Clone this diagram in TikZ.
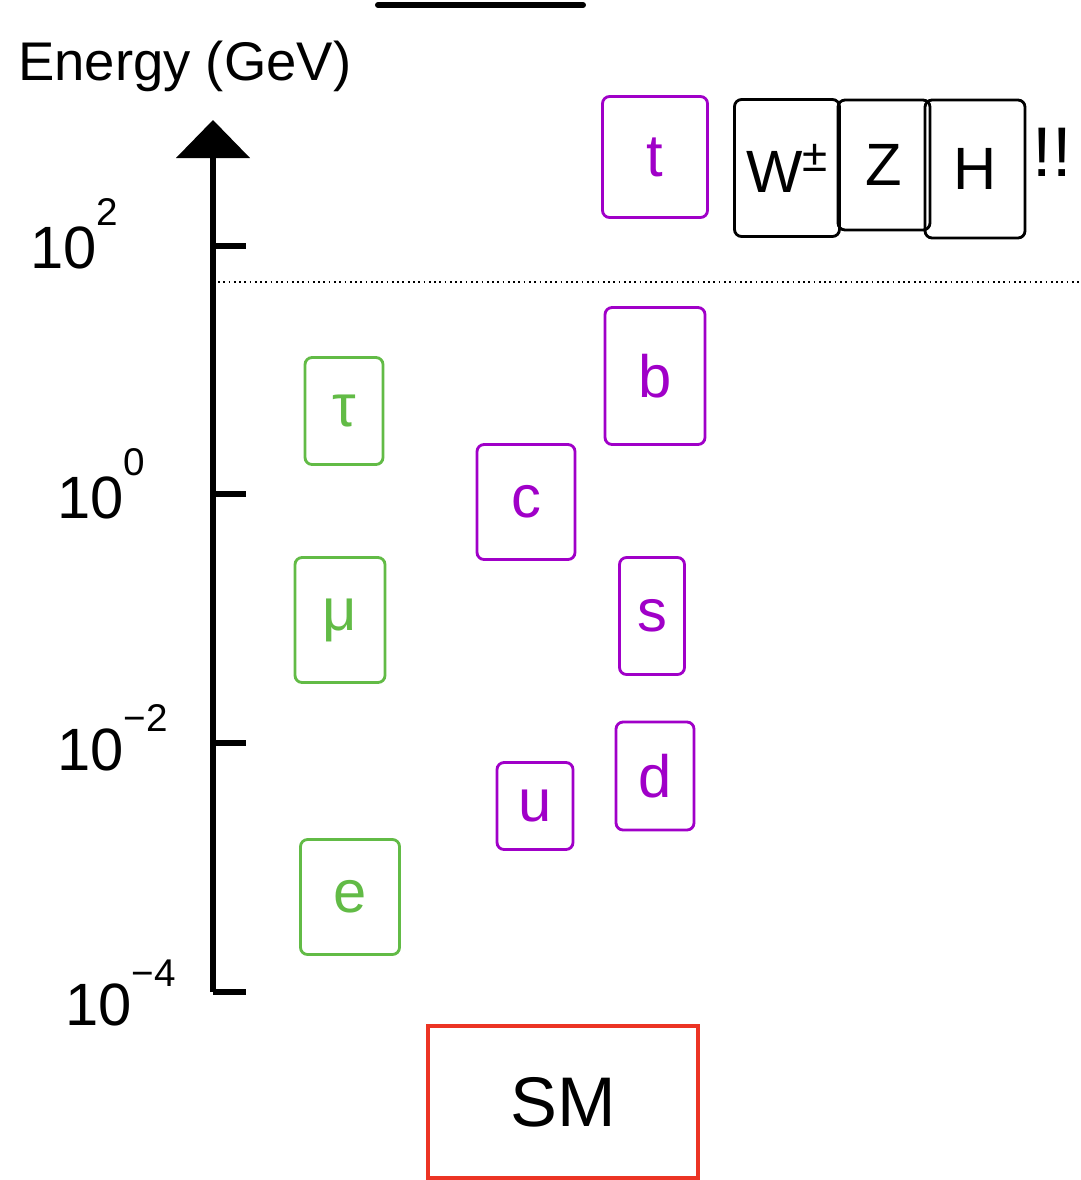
\documentclass[tikz,border=0pt]{standalone}
\usepackage{fontspec}
\setmainfont{Liberation Sans}
\definecolor{lgreen}{RGB}{98,187,70}
\definecolor{qpurple}{RGB}{160,0,200}
\definecolor{smred}{RGB}{236,52,36}
\newcommand\supfont{\fontsize{22}{22}\selectfont}
\begin{document}
\begin{tikzpicture}[x=0.02cm,y=-0.02cm,
  box/.style={draw, line width=1.6pt, rounded corners=4pt, inner sep=0pt,
    font=\fontsize{34}{34}\selectfont},
  lepton/.style={box, draw=lgreen, text=lgreen},
  quark/.style={box, draw=qpurple, text=qpurple},
  boson/.style={box, draw=black, text=black},
  axlabel/.style={anchor=base west, inner sep=0pt, font=\fontsize{34}{34}\selectfont},
  tick/.style={line width=3.4pt}]
\useasboundingbox (0,0) rectangle (1080,1180);

% title and top bar
\node[anchor=base west, inner sep=0pt, font=\fontsize{31}{31}\selectfont] (title) at (18,80) {Energy (GeV)};
\coordinate (barL) at (378,5);
\coordinate (barR) at (583,5);
\draw[line width=3.4pt, line cap=round] (barL) -- (barR);

% axis
\coordinate (axbot) at (213,992);
\coordinate (axtop) at (213,158);
\coordinate (tipL) at (176,158);
\coordinate (tipR) at (250,158);
\coordinate (tip) at (213,120);
\draw[line width=3.4pt] (axbot) -- (axtop);
\fill (tipL) -- (tipR) -- (tip) -- cycle;

\foreach \y/\nm in {246/t2, 494/t0, 743/tm2, 992/tm4}{
  \coordinate (\nm a) at (213,\y);
  \coordinate (\nm b) at (246,\y);
  \draw[tick] (\nm a) -- (\nm b);
}

\node[axlabel] (l2) at (30,268) {10\raisebox{24pt}{\supfont 2}};
\node[axlabel] (l0) at (57,518) {10\raisebox{24pt}{\supfont 0}};
\node[axlabel] (lm2) at (57,770) {10\raisebox{22pt}{\supfont −2}};
\node[axlabel] (lm4) at (65,1025) {10\raisebox{22pt}{\supfont −4}};

% dotted separation line
\coordinate (dotL) at (218,282);
\coordinate (dotR) at (1080,282);
\draw[dotted, line width=1pt] (dotL) -- (dotR);

% bosons
\node[quark, minimum width=2.1cm, minimum height=2.42cm] (t) at (655,157) {t};
\node[boson, minimum width=2.1cm, minimum height=2.74cm] (W) at (787,168) {W\raisebox{12pt}{\fontsize{26}{26}\selectfont ±}};
\node[boson, minimum width=1.84cm, minimum height=2.6cm] (Z) at (884,165) {Z};
\node[boson, minimum width=2.0cm, minimum height=2.76cm] (H) at (975,169) {H};
\node[inner sep=0pt, font=\fontsize{40}{40}\selectfont] (excl) at (1052,152) {!!};

% quarks
\node[quark, minimum width=2.0cm, minimum height=2.74cm] (b) at (655,376) {b};
\node[quark, minimum width=1.96cm, minimum height=2.3cm] (c) at (526,502) {c};
\node[quark, minimum width=1.3cm, minimum height=2.34cm] (s) at (652,616) {s};
\node[quark, minimum width=1.56cm, minimum height=2.16cm] (d) at (655,776) {d};
\node[quark, minimum width=1.52cm, minimum height=1.74cm] (u) at (535,806) {u};

% leptons
\node[lepton, minimum width=1.56cm, minimum height=2.14cm] (tau) at (344,411) {τ};
\node[lepton, minimum width=1.8cm, minimum height=2.5cm] (mu) at (340,620) {μ};
\node[lepton, minimum width=1.98cm, minimum height=2.3cm] (e) at (350,897) {e};

% SM box
\node[draw=smred, line width=2.4pt, minimum width=5.4cm, minimum height=3.04cm,
  font=\fontsize{40}{40}\selectfont] (SM) at (563,1102) {SM};
\end{tikzpicture}
\end{document}
